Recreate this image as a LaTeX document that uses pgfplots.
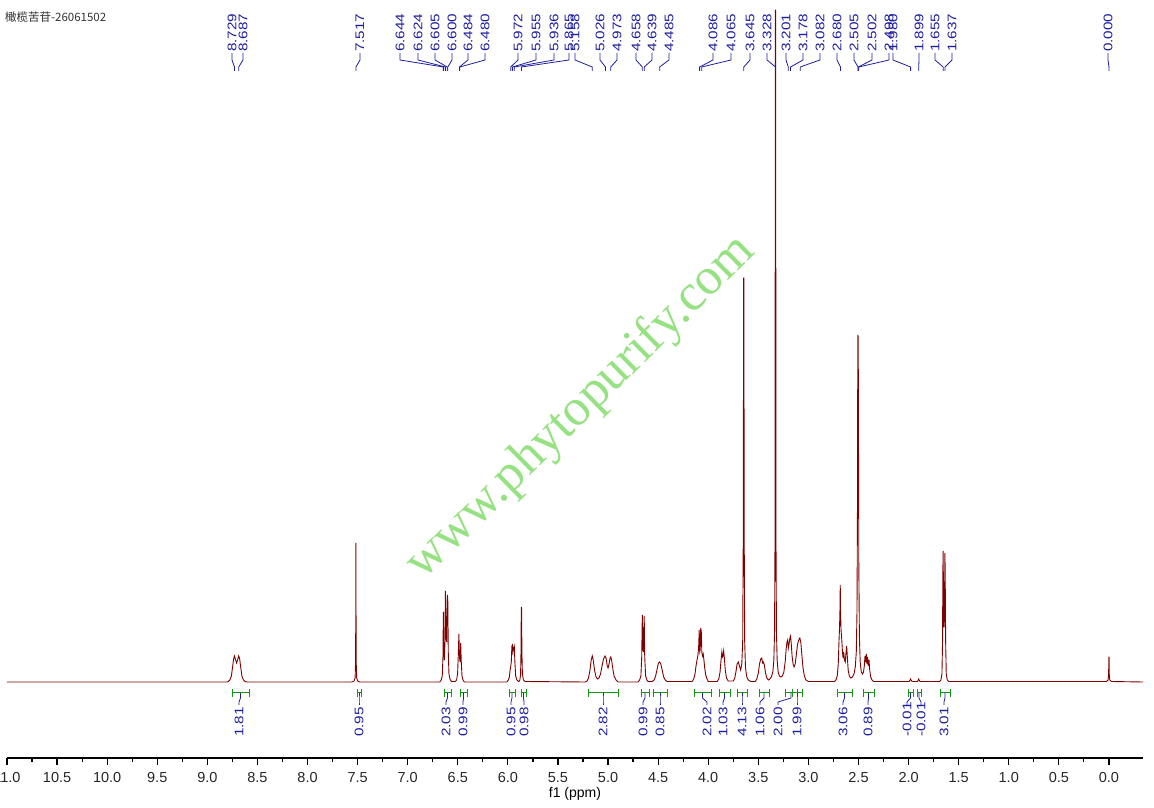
\documentclass[border=0pt]{standalone}
\usepackage{pgfplots}
\pgfplotsset{compat=1.18}
\usepackage{fontspec}
\setmainfont{Liberation Sans}
\newfontfamily\cjk{Noto Sans CJK SC}
\newfontfamily\serifwm{Liberation Serif}
\usepackage{graphicx}
\definecolor{spec}{RGB}{128,0,0}
\definecolor{lab}{RGB}{30,30,160}
\definecolor{intg}{RGB}{20,150,20}
\definecolor{wm}{RGB}{150,225,130}
\begin{document}
\begin{tikzpicture}
\begin{axis}[
  scale only axis, width=1136pt, height=758pt,
  x dir=reverse, xmin=-0.34, xmax=11.0, ymin=-76, ymax=682,
  axis x line=bottom, axis y line=none, ytick=\empty,
  x axis line style={-, line width=1.3pt},
  xtick={0,0.5,...,11}, minor x tick num=1,
  tick align=outside, major tick length=7pt, minor tick length=4pt,
  every tick/.style={black, line width=1.2pt},
  xticklabel style={font=\fontsize{14.5}{14.5}\selectfont, text=black!85, yshift=-4pt},
  /pgf/number format/.cd, fixed, fixed zerofill, precision=1, assume math mode=true, /pgfplots/.cd,
  xlabel={f1 (ppm)},
  xlabel style={at={(axis description cs:0.5,0)}, anchor=center, yshift=-36pt, font=\fontsize{14}{14}\selectfont},
  clip=false,
]
\addplot[spec, line width=0.9pt] coordinates {
(11.0,0) (8.80,0)
(8.79,0.5)(8.775,2)(8.76,6)(8.748,15)(8.738,23)(8.729,26)(8.718,22)(8.708,19)(8.698,22)(8.687,26)(8.677,23)(8.667,15)(8.655,6)(8.64,2)(8.625,0.5)(8.60,0)
(7.56,0)(7.535,1)(7.525,4)(7.520,20)(7.518,80)(7.517,139)(7.516,80)(7.514,20)(7.509,4)(7.50,1)(7.48,0)
(6.68,0)(6.665,2)(6.655,6)(6.648,25)(6.644,70)(6.639,30)(6.634,22)(6.628,40)(6.624,91)(6.619,45)(6.612,40)(6.605,87)(6.600,84)(6.595,30)(6.588,8)(6.578,3)(6.565,0.5)
(6.525,0.5)(6.512,2)(6.502,8)(6.494,30)(6.489,48)(6.483,25)(6.477,20)(6.471,39)(6.466,22)(6.458,6)(6.448,2)(6.435,0)
(6.01,0)(5.995,2)(5.985,5)(5.978,12)(5.972,15)(5.966,20)(5.960,36)(5.955,37)(5.949,30)(5.942,34)(5.936,36)(5.930,20)(5.922,6)(5.910,2)(5.895,0.5)
(5.89,0.5)(5.880,2)(5.873,8)(5.869,30)(5.866,75)(5.863,73)(5.860,30)(5.855,8)(5.845,2)(5.83,0.5)(5.23,0)
(5.21,1)(5.195,4)(5.18,12)(5.168,22)(5.158,26)(5.148,22)(5.135,12)(5.12,5)(5.105,3)(5.09,4)(5.075,8)(5.06,16)(5.045,23)(5.030,26)(5.020,24)(5.008,16)(5.000,14)(4.990,18)(4.980,24)(4.973,25)(4.965,22)(4.952,13)(4.94,6)(4.92,2)(4.90,0)
(4.70,0)(4.685,2)(4.672,6)(4.664,25)(4.658,67)(4.652,35)(4.648,30)(4.643,50)(4.639,66)(4.634,25)(4.625,6)(4.612,2)(4.60,0.5)
(4.56,0.5)(4.54,2)(4.525,6)(4.51,13)(4.497,19)(4.485,20)(4.473,18)(4.46,12)(4.445,5)(4.43,2)(4.41,0.5)
(4.16,0.5)(4.145,3)(4.132,8)(4.122,16)(4.112,22)(4.104,26)(4.096,34)(4.090,52)(4.085,30)(4.080,32)(4.075,54)(4.069,50)(4.064,30)(4.057,26)(4.050,28)(4.043,22)(4.035,14)(4.025,7)(4.012,3)(4.00,0.5)
(3.91,0.5)(3.895,3)(3.882,10)(3.872,22)(3.864,30)(3.858,25)(3.852,26)(3.846,31)(3.839,24)(3.830,12)(3.818,4)(3.80,1)
(3.75,1)(3.735,4)(3.722,11)(3.712,18)(3.700,20)(3.688,16)(3.676,12)(3.665,18)(3.656,40)(3.650,150)(3.647,404)(3.644,404)(3.641,150)(3.636,40)(3.628,14)(3.615,5)(3.60,2)(3.575,0.5)
(3.53,0.5)(3.515,3)(3.500,9)(3.488,18)(3.476,23)(3.466,24)(3.457,19)(3.449,20)(3.440,17)(3.428,9)(3.415,4)(3.40,2)
(3.385,3)(3.37,5)(3.355,10)(3.345,22)(3.338,50)(3.333,150)(3.330,672)(3.327,672)(3.324,150)(3.319,50)(3.312,22)(3.302,10)(3.29,6)(3.275,5)(3.26,6)
(3.245,10)(3.232,20)(3.222,33)(3.214,40)(3.207,42)(3.200,34)(3.193,38)(3.185,44)(3.178,46)(3.171,38)(3.163,26)(3.153,18)(3.143,15)(3.132,18)(3.120,28)(3.108,38)(3.096,42)(3.086,44)(3.076,40)(3.066,28)(3.054,14)(3.040,6)(3.025,2)(3.00,0.5)
(2.74,0.5)(2.725,2)(2.712,6)(2.702,18)(2.695,40)(2.689,55)(2.685,72)(2.682,97)(2.679,70)(2.674,52)(2.668,44)(2.660,30)(2.654,24)(2.648,30)(2.640,22)(2.632,20)(2.624,30)(2.618,36)(2.612,26)(2.603,12)(2.592,6)(2.578,4)(2.56,5)
(2.545,8)(2.532,15)(2.522,30)(2.515,70)(2.510,180)(2.507,347)(2.503,345)(2.500,250)(2.497,120)(2.491,45)(2.483,20)(2.472,10)(2.460,8)
(2.450,10)(2.442,16)(2.435,26)(2.429,20)(2.422,28)(2.415,18)(2.409,25)(2.402,16)(2.395,22)(2.388,12)(2.378,5)(2.365,2)(2.35,0.5)
(1.995,0.5)(1.985,2)(1.980,3)(1.975,2)(1.965,0.5)(1.91,0.5)(1.903,2)(1.899,3)(1.895,2)(1.885,0.5)
(1.69,0.5)(1.677,2)(1.667,8)(1.661,40)(1.658,110)(1.655,131)(1.652,90)(1.648,55)(1.644,55)(1.640,95)(1.637,129)(1.634,100)(1.630,40)(1.624,8)(1.614,2)(1.60,0.5)
(0.025,0.5)(0.008,2)(0.003,8)(0.001,25)(-0.001,25)(-0.003,8)(-0.008,2)(-0.025,0.5)(-0.34,0)
};
\end{axis}
\begin{scope}[x=1pt,y=1pt]
\node[anchor=west, inner sep=0pt, text=black!80] at (-2,741) {\cjk\fontsize{11.5}{12}\selectfont 橄榄苦苷-26061502};
\node[rotate=44.6, text=wm, inner sep=0pt, font=\serifwm\fontsize{52}{52}\selectfont] at (574,350) {www.phytopurify.com};
\foreach \p/\lx in {8.729/232, 8.687/243, 7.517/360, 6.644/400, 6.624/418, 6.605/435, 6.600/452, 6.484/468, 6.480/485, 5.972/518, 5.955/536, 5.936/554, 5.865/569, 5.158/575, 5.026/600, 4.973/617, 4.658/636, 4.639/652, 4.485/669, 4.086/713, 4.065/731, 3.645/750, 3.328/767, 3.201/786, 3.178/803, 3.082/820, 2.680/837, 2.505/854, 2.502/872, 2.498/889, 1.980/893, 1.899/919, 1.655/935, 1.637/952, 0.000/1108} {
  \pgfmathsetmacro\px{(11-\p)*100.17637}
  \pgfmathsetmacro\lX{\lx-7}
  \draw[lab, line width=0.8pt] (\lX,705) -- (\lX,698) -- (\px,691) -- (\px,687);
  \node[lab, rotate=90, anchor=west, inner sep=0pt, font=\fontsize{12.5}{12.5}\selectfont] at (\lX,706) {\scalebox{1.22}[1]{\p}};
}
\foreach \a/\b/\l/\v in {232/249/239/1.81, 357/361/359/0.95, 444/451/446/2.03, 460/467/463/0.99, 509/515/511/0.95, 521/526/524/0.98, 588/618/603/2.82, 641/649/643/0.99, 653/667/660/0.85, 694/711/707/2.02, 719/730/723/1.03, 737/747/742/4.13, 759/769/760/1.06, 785/797/778/2.00, 792/802/797/1.99, 837/852/843/3.06, 863/874/868/0.89, 908/913/907/-0.01, 917/921/921/-0.01, 940/950/944/3.01} {
  \pgfmathsetmacro\A{\a-7}
  \pgfmathsetmacro\B{\b-7}
  \pgfmathsetmacro\C{(\a+\b)/2-7}
  \pgfmathsetmacro\L{\l-7}
  \draw[intg, line width=1pt] (\A,65) -- (\B,65) (\A,61) -- (\A,69) (\B,61) -- (\B,69);
  \draw[lab, line width=0.8pt] (\C,65) -- (\C,60) -- (\L,56) -- (\L,53);
  \node[lab, rotate=90, anchor=west, inner sep=0pt, font=\fontsize{12.5}{12.5}\selectfont] at (\L,21) {\scalebox{1.22}[1]{\v}};
}
\pgfresetboundingbox
\path[use as bounding box] (-7,-50) rectangle (1147,758);
\end{scope}
\end{tikzpicture}
\end{document}
